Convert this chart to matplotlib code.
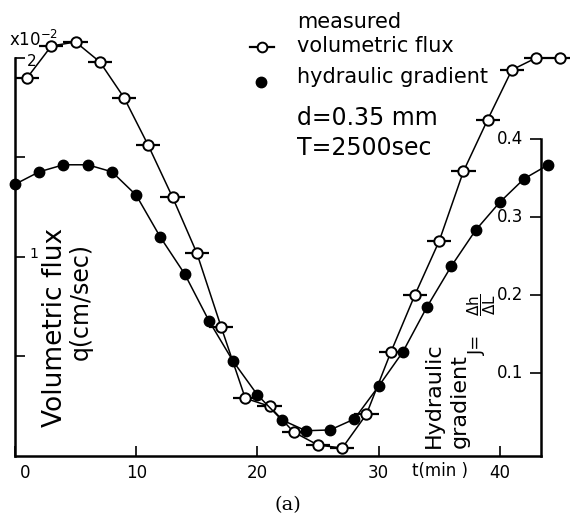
import numpy as np
import matplotlib
matplotlib.use("Agg")
import matplotlib.pyplot as plt
from matplotlib.lines import Line2D
import matplotlib.transforms as mtransforms

# measured volumetric flux q (x10^-2 cm/sec), open circles
t_flux = [1, 3, 5, 7, 9, 11, 13, 15, 17, 19, 21, 23,
          25, 27, 29, 31, 33, 35, 37, 39, 41, 43, 45]
q_flux = [1.90, 2.06, 2.08, 1.98, 1.80, 1.56, 1.30, 1.02, 0.65, 0.29, 0.25, 0.12,
          0.055, 0.04, 0.21, 0.52, 0.81, 1.08, 1.43, 1.69, 1.94, 2.00, 2.00]
t_err = 1.0  # horizontal bar half-width (min)

# hydraulic gradient J, filled circles
t_grad = [0, 2, 4, 6, 8, 10, 12, 14, 16, 18, 20, 22,
          24, 26, 28, 30, 32, 34, 36, 38, 40, 42, 44]
j_grad = [0.342, 0.358, 0.367, 0.367, 0.358, 0.328, 0.274, 0.227, 0.167, 0.115, 0.072, 0.040,
          0.026, 0.027, 0.041, 0.083, 0.127, 0.185, 0.237, 0.283, 0.319, 0.349, 0.367]

x_ticks = [0, 10, 20, 30, 40]
q_ticks = [0.5, 1.0, 1.5, 2.0]
j_ticks = [0.1, 0.2, 0.3, 0.4]
j_ticklabels = ["0.1", "0.2", "0.3", "0.4"]

W, H = 570, 521
fig = plt.figure(figsize=(W / 100, H / 100), dpi=100)
ax = fig.add_axes([15 / W, (H - 456) / H, 526 / W, 416 / H])
ax2 = ax.twinx()

def fx(px):
    return px / W

def fy(py):
    return 1 - py / H

# curves
ax.plot(t_flux, q_flux, color="black", lw=1.1, zorder=2, clip_on=False)
ax.errorbar(t_flux, q_flux, xerr=t_err, fmt="o", ms=7.5, mfc="white", mec="black",
            mew=1.4, ecolor="black", elinewidth=1.6, capsize=0, zorder=3, clip_on=False)
ax2.plot(t_grad, j_grad, color="black", lw=1.1, marker="o", ms=7.5,
         mfc="black", mec="black", zorder=3, clip_on=False)

# axes limits
ax.set_xlim(0, 43.4)
ax.set_ylim(0, 2.09)
ax2.set_ylim(-0.0064, 0.527)

# spines
for s in ["top", "right"]:
    ax.spines[s].set_visible(False)
for s in ["top", "left", "bottom"]:
    ax2.spines[s].set_visible(False)
ax.spines["left"].set_bounds(0, 2.0)
ax2.spines["right"].set_bounds(-0.0064, 0.4)
for sp in [ax.spines["left"], ax.spines["bottom"], ax2.spines["right"]]:
    sp.set_linewidth(1.8)

# x ticks
ax.set_xticks(x_ticks)
ax.set_xticklabels([str(v) for v in x_ticks])
ax.tick_params(axis="x", direction="in", length=7, width=1.2, pad=6, labelsize=12)
lab0 = ax.get_xticklabels()[0]
lab0.set_transform(lab0.get_transform() + mtransforms.ScaledTranslation(0.1, 0, fig.dpi_scale_trans))
fig.text(fx(440), fy(471), "t(min )", fontsize=12, ha="center", va="center")

# left y ticks
ax.set_yticks(q_ticks)
ax.tick_params(axis="y", direction="in", length=7, width=1.2, labelleft=False)
fig.text(fx(34), fy(254), "1", fontsize=10, ha="center", va="center")
fig.text(fx(32), fy(61), "2", fontsize=11, ha="center", va="center")
fig.text(fx(9), fy(46), r"x10$^{-2}$", fontsize=12, ha="left", va="baseline")

# right y ticks
ax2.set_yticks(j_ticks)
ax2.tick_params(axis="y", direction="in", length=8, width=1.2, labelright=False)
for v, lab in zip(j_ticks, j_ticklabels):
    ax2.text(0.966, v, lab, transform=ax2.get_yaxis_transform(), fontsize=12,
             ha="right", va="center")

# axis titles inside the plot
fig.text(fx(55), fy(327), "Volumetric flux", rotation=90, fontsize=19, ha="center", va="center")
fig.text(fx(81), fy(302), "q(cm/sec)", rotation=90, fontsize=17, ha="center", va="center")
fig.text(fx(434), fy(448), "Hydraulic", rotation=90, fontsize=16, ha="center", va="bottom")
fig.text(fx(460), fy(448), "gradient", rotation=90, fontsize=16, ha="center", va="bottom")
fig.text(fx(477), fy(345), "J=", rotation=90, fontsize=13, ha="center", va="center")
fig.text(fx(482), fy(305), r"$\dfrac{\Delta\mathrm{h}}{\Delta\mathrm{L}}$", rotation=90,
         fontsize=11, ha="center", va="center")

# legend (drawn by hand)
fig.add_artist(Line2D([fx(250), fx(274)], [fy(47), fy(47)], color="black", lw=1.6))
fig.add_artist(Line2D([fx(262)], [fy(47)], marker="o", ms=7, mfc="white", mec="black", mew=1.4))
fig.add_artist(Line2D([fx(261)], [fy(82)], marker="o", ms=7.5, mfc="black", mec="black"))
fig.text(fx(297), fy(28), "measured", fontsize=15, ha="left", va="baseline")
fig.text(fx(297), fy(52), "volumetric flux", fontsize=15, ha="left", va="baseline")
fig.text(fx(297), fy(83), "hydraulic gradient", fontsize=15, ha="left", va="baseline")
fig.text(fx(297), fy(125), "d=0.35 mm", fontsize=17, ha="left", va="baseline")
fig.text(fx(297), fy(155), "T=2500sec", fontsize=17, ha="left", va="baseline")

fig.text(fx(288), fy(505), "(a)", fontsize=14, family="DejaVu Serif", ha="center", va="center")

fig.savefig("out.png", dpi=100)
